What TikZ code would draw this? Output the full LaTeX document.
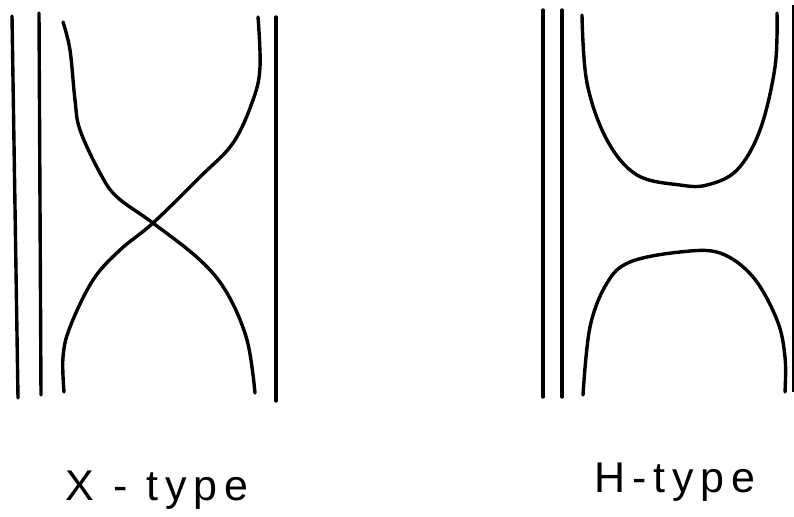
\documentclass[tikz,border=0pt]{standalone}
\usepackage{fontspec}
\newfontfamily\handfont[LetterSpace=16]{Liberation Sans}
\begin{document}
\begin{tikzpicture}[x=1pt,y=-1pt,
  ink/.style={line width=3.4pt,line cap=round,line join=round,black},
  curve/.style={ink,smooth,tension=0.6},
  lbl/.style={font=\handfont\fontsize{43}{45}\selectfont,inner sep=0pt,anchor=base}]
\useasboundingbox (0,0) rectangle (794,516);
% X-type
\draw[ink] (12,16) -- (18,398);
\draw[ink] (39,13) -- (41,395);
\draw[ink] (276,17) -- (276,401);
\draw[curve] plot coordinates {(63,22) (70,50) (75,100) (80,130) (100,173) (117,197) (153,223) (200,260) (227,293) (247,340) (255,393)};
\draw[curve] plot coordinates {(258,17) (260,67) (253,100) (233,143) (200,177) (153,223) (120,250) (93,280) (70,327) (63,357) (64,392)};
\node[lbl] (xlabel) at (157,500) {X - type};
% H-type
\draw[ink] (543,10) -- (543,397);
\draw[ink] (562,10) -- (562,397);
\draw[line width=2pt,black] (793,5) -- (793,392);
\draw[curve] plot coordinates {(582,15) (587,83) (607,140) (637,175) (680,185) (707,185) (737,170) (760,130) (775,67) (777,13)};
\draw[curve] plot coordinates {(583,395) (590,327) (607,283) (630,262) (680,252) (720,253) (753,277) (777,320) (785,357) (785,392)};
\node[lbl] (hlabel) at (675,492) {H-type};
\end{tikzpicture}
\end{document}
